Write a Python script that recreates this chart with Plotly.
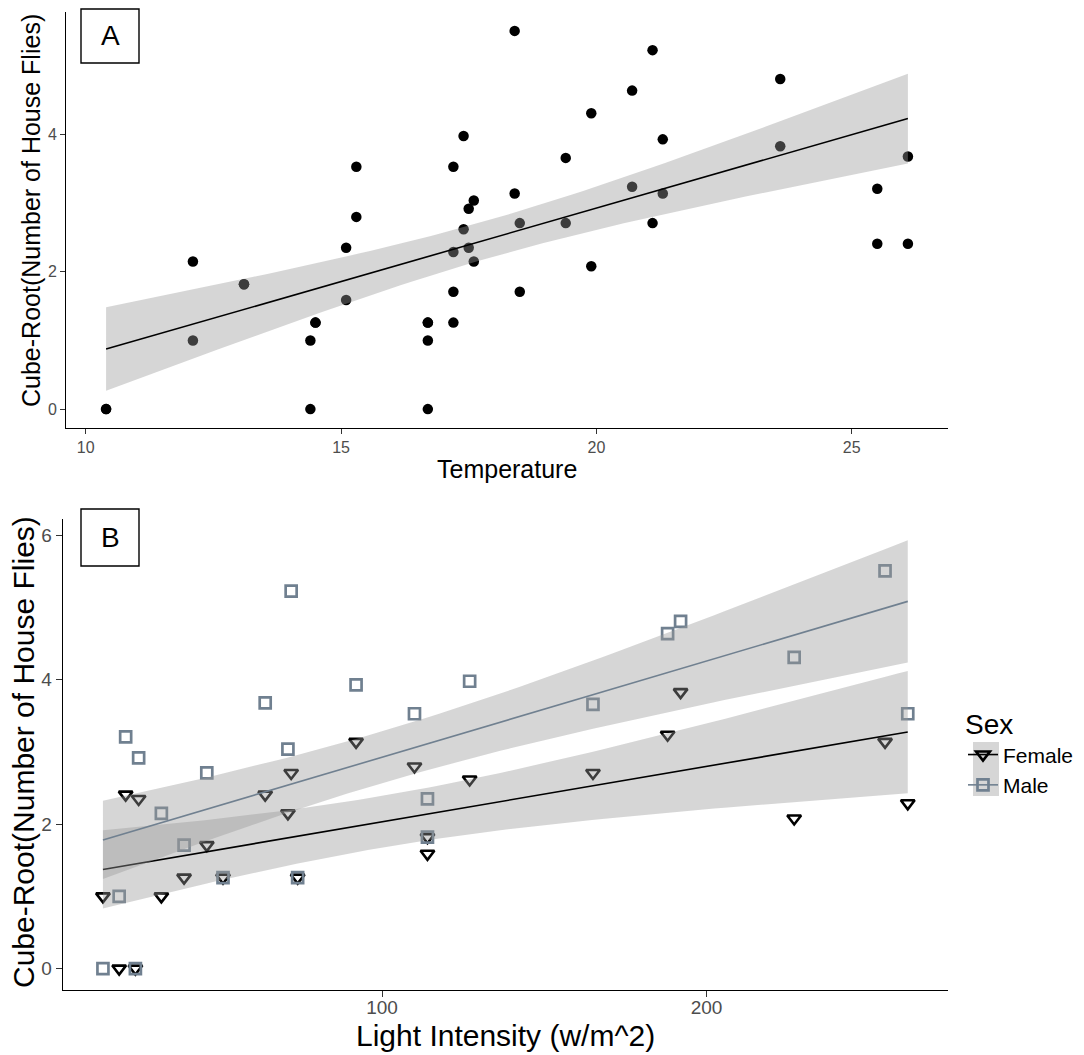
import numpy as np
import plotly.graph_objects as go

# ---------------- data (one row per site) ----------------
temperature = [10.4, 12.1, 13.1, 14.4, 14.5, 15.1, 15.3, 16.7, 16.7, 17.2, 17.2, 17.4,
               17.5, 17.6, 18.4, 18.5, 19.4, 19.9, 20.7, 21.1, 21.3, 23.6, 25.5, 26.1]
light = [24, 32, 114, 14, 51, 114, 110, 19, 74, 39, 262, 127,
         25, 71, 255, 46, 165, 227, 188, 72, 92, 192, 21, 64]
female = [0.00, 1.00, 1.82, 1.00, 1.26, 1.59, 2.80, 0.00, 1.26, 1.26, 2.29, 2.62,
          2.35, 2.15, 3.14, 1.71, 2.71, 2.08, 3.24, 2.71, 3.14, 3.83, 2.41, 2.41]
male = [0.00, 2.15, 1.82, 0.00, 1.26, 2.35, 3.53, 1.00, 1.26, 1.71, 3.53, 3.98,
        2.92, 3.04, 5.51, 2.71, 3.66, 4.31, 4.64, 5.23, 3.93, 4.81, 3.21, 3.68]

# residual SD of the fitted models, read from the widths of the confidence ribbons
band_sd_a = 0.95
band_sd_b = 0.87

x_ticks_a = [10, 15, 20, 25]
y_ticks_a = [0, 2, 4]
x_ticks_b = [100, 200]
y_ticks_b = [0, 2, 4, 6]

# the page body has an 8px margin, so the figure is drawn 8px in from the corner
OFF = 8
W, H = 1084 - OFF, 1055 - OFF
FONT = "Liberation Sans, Arial, sans-serif"
RIBBON = "rgba(153,153,153,0.4)"
MALE_COL = "#708090"
TICK_COL = "#4D4D4D"


def px(x):
    return (x - OFF) / W


def py(y):
    return 1 - (y - OFF) / H


def lm_band(x, y, s, t_crit):
    x = np.asarray(x, float)
    y = np.asarray(y, float)
    n = len(x)
    b1, b0 = np.polyfit(x, y, 1)
    xbar = x.mean()
    sxx = np.sum((x - xbar) ** 2)
    xs = np.linspace(x.min(), x.max(), 80)
    fit = b0 + b1 * xs
    se = s * np.sqrt(1 / n + (xs - xbar) ** 2 / sxx)
    return xs, fit, fit - t_crit * se, fit + t_crit * se


def expand(lo, hi):
    d = hi - lo
    return [lo - 0.05 * d, hi + 0.05 * d]


fig = go.Figure()

# ---------------- panel A ----------------
xa = temperature + temperature
ya = female + male
fig.add_trace(go.Scatter(x=xa, y=ya, mode="markers", xaxis="x", yaxis="y",
                         marker=dict(color="black", size=10.5, line=dict(width=0)),
                         showlegend=False, hoverinfo="skip"))
xs, fit, lo, hi = lm_band(xa, ya, band_sd_a, 2.014)
fig.add_trace(go.Scatter(x=list(xs) + list(xs[::-1]), y=list(hi) + list(lo[::-1]),
                         mode="lines", fill="toself", fillcolor=RIBBON, line=dict(width=0),
                         xaxis="x", yaxis="y", showlegend=False, hoverinfo="skip"))
fig.add_trace(go.Scatter(x=xs, y=fit, mode="lines", line=dict(color="black", width=1.6),
                         xaxis="x", yaxis="y", showlegend=False, hoverinfo="skip"))
xr_a = expand(min(xa), max(xa))
yr_a = expand(min(min(ya), lo.min()), max(max(ya), hi.max()))

# ---------------- panel B ----------------
fig.add_trace(go.Scatter(x=light, y=female, mode="markers", xaxis="x2", yaxis="y2",
                         marker=dict(symbol="triangle-down-open", color="black", size=12,
                                     line=dict(width=2.6, color="black")),
                         showlegend=False, hoverinfo="skip"))
fig.add_trace(go.Scatter(x=light, y=male, mode="markers", xaxis="x2", yaxis="y2",
                         marker=dict(symbol="square-open", color=MALE_COL, size=11,
                                     line=dict(width=2.7, color=MALE_COL)),
                         showlegend=False, hoverinfo="skip"))
bands = []
for vals, col in ((female, "black"), (male, MALE_COL)):
    xs, fit, lo, hi = lm_band(light, vals, band_sd_b, 2.015)
    bands.append((lo, hi))
    fig.add_trace(go.Scatter(x=list(xs) + list(xs[::-1]), y=list(hi) + list(lo[::-1]),
                             mode="lines", fill="toself", fillcolor=RIBBON, line=dict(width=0),
                             xaxis="x2", yaxis="y2", showlegend=False, hoverinfo="skip"))
    fig.add_trace(go.Scatter(x=xs, y=fit, mode="lines", line=dict(color=col, width=1.6),
                             xaxis="x2", yaxis="y2", showlegend=False, hoverinfo="skip"))
xr_b = expand(min(light), max(light))
ymin_b = min(min(female), min(male), min(b[0].min() for b in bands))
ymax_b = max(max(female), max(male), max(b[1].max() for b in bands))
yr_b = expand(ymin_b, ymax_b)

# legend-only traces
fig.add_trace(go.Scatter(x=[None], y=[None], mode="lines+markers", name="Female",
                         xaxis="x2", yaxis="y2",
                         marker=dict(symbol="triangle-down-open", color="black", size=12,
                                     line=dict(width=2.6, color="black")),
                         line=dict(color="black", width=1.6)))
fig.add_trace(go.Scatter(x=[None], y=[None], mode="lines+markers", name="Male",
                         xaxis="x2", yaxis="y2",
                         marker=dict(symbol="square-open", color=MALE_COL, size=11,
                                     line=dict(width=2.7, color=MALE_COL)),
                         line=dict(color=MALE_COL, width=1.6)))

axis_common = dict(showline=True, linecolor="black", linewidth=1, ticks="outside",
                   tickcolor="#333333", showgrid=False, zeroline=False, automargin=False)

fig.update_layout(
    width=W, height=H, margin=dict(l=0, r=0, t=0, b=0, autoexpand=False),
    paper_bgcolor="white", plot_bgcolor="white",
    font=dict(family=FONT, color="black"),
    xaxis=dict(domain=[px(66), px(948)], anchor="y", range=xr_a, tickvals=x_ticks_a,
               ticklen=5, tickfont=dict(size=16, color=TICK_COL), **axis_common),
    yaxis=dict(domain=[py(428), py(12)], anchor="x", range=yr_a, tickvals=y_ticks_a,
               ticklen=5, tickfont=dict(size=16, color=TICK_COL), **axis_common),
    xaxis2=dict(domain=[px(62.7), px(948)], anchor="y2", range=xr_b, tickvals=x_ticks_b,
                ticklen=6, ticklabelstandoff=-6,
                tickfont=dict(size=19, color=TICK_COL), **axis_common),
    yaxis2=dict(domain=[py(990), py(518.8)], anchor="x2", range=yr_b, tickvals=y_ticks_b,
                ticklen=6, tickfont=dict(size=19, color=TICK_COL), **axis_common),
    showlegend=True,
    legend=dict(x=px(963), y=py(698), xanchor="left", yanchor="top",
                bgcolor="rgba(0,0,0,0)", borderwidth=0,
                title=dict(text="Sex", font=dict(size=28, color="black")),
                font=dict(size=21, color="black"), tracegroupgap=0),
)

annotations = [
    dict(text="Temperature", x=px(507), y=py(469), font=dict(size=25)),
    dict(text="Cube-Root(Number of House Flies)", x=px(31), y=py(211), textangle=-90,
         font=dict(size=25)),
    dict(text="Light Intensity (w/m^2)", x=px(505), y=py(1035), font=dict(size=30)),
    dict(text="Cube-Root(Number of House Flies)", x=px(23), y=py(752), textangle=-90,
         font=dict(size=30)),
    dict(text="A", x=px(110), y=py(36), font=dict(size=28)),
    dict(text="B", x=px(110), y=py(537.5), font=dict(size=28)),
]
for a in annotations:
    a.update(xref="paper", yref="paper", showarrow=False, xanchor="center", yanchor="middle")
    a["font"].update(family=FONT, color="black")
fig.update_layout(annotations=annotations)

shapes = [
    dict(type="rect", x0=px(81), x1=px(139), y0=py(63), y1=py(9),
         line=dict(color="black", width=1.4), fillcolor="white"),
    dict(type="rect", x0=px(81), x1=px(139), y0=py(566), y1=py(509),
         line=dict(color="black", width=1.4), fillcolor="white"),
    dict(type="rect", x0=px(973), x1=px(999), y0=py(796), y1=py(742),
         line=dict(width=0), fillcolor="#D6D6D6", layer="below"),
]
for s in shapes:
    s.update(xref="paper", yref="paper")
fig.update_layout(shapes=shapes)

fig.write_html("out.html")
